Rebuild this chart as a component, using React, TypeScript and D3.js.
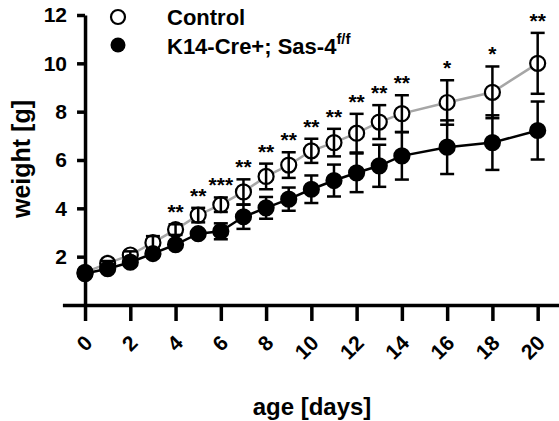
import React, { useEffect, useRef } from 'react';
import * as d3 from 'd3';

const days = [0, 1, 2, 3, 4, 5, 6, 7, 8, 9, 10, 11, 12, 13, 14, 16, 18, 20];
const controlMean = [1.35, 1.72, 2.07, 2.58, 3.12, 3.72, 4.15, 4.68, 5.32, 5.79, 6.38, 6.72, 7.11, 7.57, 7.92, 8.38, 8.8, 10.0];
const controlSd = [0.08, 0.1, 0.15, 0.27, 0.22, 0.3, 0.3, 0.52, 0.53, 0.53, 0.5, 0.57, 0.8, 0.7, 0.76, 0.92, 1.07, 1.26];
const mutantMean = [1.3, 1.5, 1.77, 2.13, 2.5, 2.95, 3.05, 3.65, 4.02, 4.38, 4.79, 5.15, 5.47, 5.76, 6.17, 6.53, 6.72, 7.22];
const mutantSd = [0.06, 0.08, 0.12, 0.15, 0.12, 0.14, 0.33, 0.5, 0.45, 0.48, 0.57, 0.66, 0.8, 0.87, 0.98, 1.11, 1.13, 1.2];
const stars = ['', '', '', '', '**', '**', '***', '**', '**', '**', '**', '**', '**', '**', '**', '*', '*', '**'];
const xTicks = [0, 2, 4, 6, 8, 10, 12, 14, 16, 18, 20];
const yTicks = [2, 4, 6, 8, 10, 12];

const FONT = '"Liberation Sans", Arial, sans-serif';

const App = () => {
  const ref = useRef(null);

  useEffect(() => {
    draw();
  }, []);

  const draw = () => {
    const svg = d3.select(ref.current);
    svg.selectAll('*').remove();

    const x = d3.scaleLinear().domain([-1, 21]).range([62.4, 560.3]);
    const y = d3.scaleLinear().domain([0, 12]).range([305, 15]);

    // axes
    const xAxis = svg.append('g')
      .attr('transform', 'translate(0,305)')
      .call(d3.axisBottom(x).tickValues(xTicks).tickSize(16).tickSizeOuter(0).tickFormat(d3.format('d')));
    xAxis.select('.domain').attr('stroke-width', 3.5);
    xAxis.selectAll('.tick line').attr('stroke-width', 3.5);
    xAxis.selectAll('.tick text')
      .attr('font-family', FONT).attr('font-weight', 'bold').attr('font-size', 21).attr('fill', '#000')
      .attr('text-anchor', 'end')
      .attr('transform', 'translate(3,34) rotate(-45)')
      .attr('dy', '0.35em').attr('y', 0).attr('x', 0);

    const yAxis = svg.append('g')
      .attr('transform', `translate(${x(0)},0)`)
      .call(d3.axisLeft(y).tickValues(yTicks).tickSize(8).tickPadding(10).tickSizeOuter(0));
    yAxis.select('.domain').attr('stroke-width', 3.5);
    yAxis.selectAll('.tick line').attr('stroke-width', 3.5);
    yAxis.selectAll('.tick text')
      .attr('font-family', FONT).attr('font-weight', 'bold').attr('font-size', 21).attr('fill', '#000');

    // axis titles
    svg.append('text')
      .attr('transform', 'translate(30,159) rotate(-90)')
      .attr('text-anchor', 'middle')
      .attr('font-family', FONT).attr('font-weight', 'bold').attr('font-size', 25)
      .text('weight [g]');
    svg.append('text')
      .attr('x', 312).attr('y', 415)
      .attr('text-anchor', 'middle')
      .attr('font-family', FONT).attr('font-weight', 'bold').attr('font-size', 24)
      .text('age [days]');

    const series = [
      { mean: controlMean, sd: controlSd, line: '#a6a6a6', fill: '#fff' },
      { mean: mutantMean, sd: mutantSd, line: '#000', fill: '#000' },
    ];

    const lineGen = (m: number[]) => d3.line<number>().x((d, i) => x(days[i])).y(d => y(d))(m);

    series.forEach(s => {
      svg.append('path').attr('d', lineGen(s.mean)).attr('fill', 'none')
        .attr('stroke', s.line).attr('stroke-width', 2.5);
    });

    series.forEach(s => {
      const g = svg.append('g');
      g.selectAll('circle').data(s.mean).enter().append('circle')
        .attr('cx', (d, i) => x(days[i])).attr('cy', d => y(d))
        .attr('r', 7.5).attr('fill', s.fill).attr('stroke', '#000').attr('stroke-width', 2.2);
      s.mean.forEach((m, i) => {
        const cx = x(days[i]);
        const top = y(m + s.sd[i]);
        const bot = y(m - s.sd[i]);
        g.append('line').attr('x1', cx).attr('x2', cx).attr('y1', top).attr('y2', bot)
          .attr('stroke', '#000').attr('stroke-width', 2.5);
        [top, bot].forEach(v => {
          g.append('line').attr('x1', cx - 7).attr('x2', cx + 7).attr('y1', v).attr('y2', v)
            .attr('stroke', '#000').attr('stroke-width', 2.5);
        });
      });
    });

    // significance stars
    svg.append('g').selectAll('text').data(stars).enter().append('text')
      .attr('x', (d, i) => x(days[i]))
      .attr('y', (d, i) => y(controlMean[i] + controlSd[i]) - 5)
      .attr('text-anchor', 'middle')
      .attr('font-family', FONT).attr('font-weight', 'bold').attr('font-size', 21)
      .text(d => d);

    // legend
    svg.append('circle').attr('cx', 118).attr('cy', 17).attr('r', 7)
      .attr('fill', '#fff').attr('stroke', '#000').attr('stroke-width', 2.2);
    svg.append('circle').attr('cx', 118).attr('cy', 45).attr('r', 7.5).attr('fill', '#000');
    svg.append('text').attr('x', 167).attr('y', 25)
      .attr('font-family', FONT).attr('font-weight', 'bold').attr('font-size', 22)
      .text('Control');
    const lt = svg.append('text').attr('x', 167).attr('y', 54)
      .attr('font-family', FONT).attr('font-weight', 'bold').attr('font-size', 22);
    lt.append('tspan').text('K14-Cre+; Sas-4');
    lt.append('tspan').attr('font-size', 15).attr('dy', -10).text('f/f');
  };

  return <svg ref={ref} width="559" height="421" style={{ position: 'absolute', left: 0, top: 0, background: '#fff' }}></svg>;
};

export default App;
